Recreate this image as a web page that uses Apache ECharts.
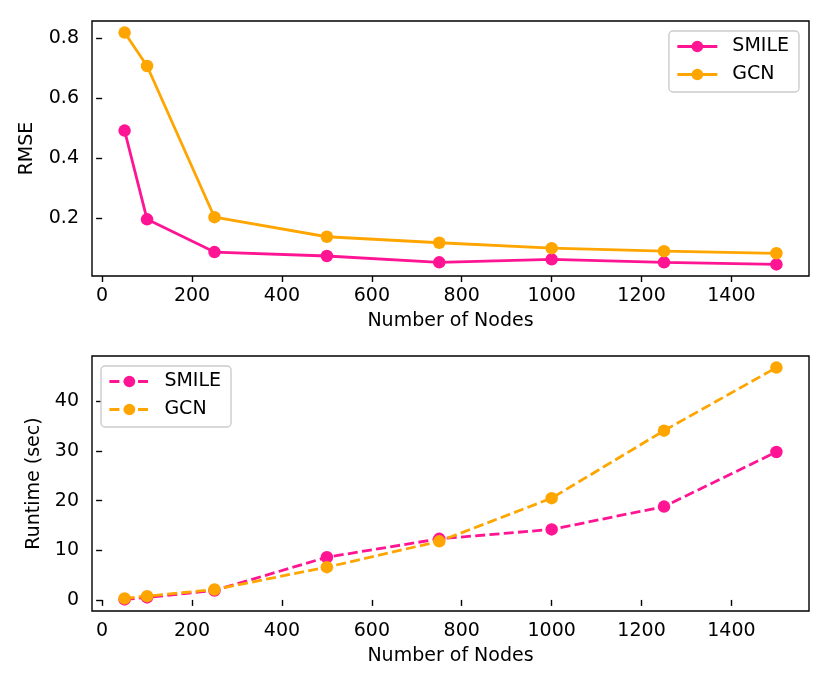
<!DOCTYPE html>
<html>
<head>
<meta charset="utf-8">
<script src="https://cdn.jsdelivr.net/npm/echarts@6/dist/echarts.min.js"></script>
<style>
html,body{margin:0;padding:0;background:#fff;}
#chart{width:830px;height:692px;}
</style>
</head>
<body>
<div id="chart"></div>
<script>
// ---- data ----
const nodes = [50, 100, 250, 500, 750, 1000, 1250, 1500];
const rmseSmile = [0.492, 0.197, 0.088, 0.075, 0.054, 0.064, 0.054, 0.047];
const rmseGcn = [0.818, 0.707, 0.204, 0.139, 0.119, 0.101, 0.091, 0.084];
const runtimeSmile = [0.1, 0.5, 1.9, 8.6, 12.3, 14.2, 18.8, 29.8];
const runtimeGcn = [0.3, 0.75, 2.1, 6.6, 11.8, 20.5, 34.1, 46.8];
const xTicks = [0, 200, 400, 600, 800, 1000, 1200, 1400];
const rmseTicks = [0.2, 0.4, 0.6, 0.8];
const runtimeTicks = [0, 10, 20, 30, 40];
const seriesNames = ['SMILE', 'GCN'];
const xLabel = 'Number of Nodes';
const rmseLabel = 'RMSE';
const runtimeLabel = 'Runtime (sec)';

// ---- helpers ----
const FONT = 'DejaVu Sans';
const FS = 19;
const PINK = '#FF1493';
const ORANGE = '#FFA500';
function pairs(xs, ys) { return xs.map((x, i) => [x, ys[i]]); }
function padRange(vals) {
  const lo = Math.min(...vals), hi = Math.max(...vals);
  const m = (hi - lo) * 0.05;
  return [lo - m, hi + m];
}
const xr = padRange(nodes);
const yr1 = padRange(rmseSmile.concat(rmseGcn));
const yr2 = padRange(runtimeSmile.concat(runtimeGcn));

function xAxis(gi) {
  return {
    type: 'value', gridIndex: gi, min: xr[0], max: xr[1],
    name: xLabel, nameLocation: 'middle', nameGap: 36,
    nameTextStyle: {fontFamily: FONT, fontSize: FS, color: '#000'},
    axisLine: {show: false},
    axisTick: {show: true, length: 6, lineStyle: {color: '#000', width: 1.4}, customValues: xTicks},
    axisLabel: {fontFamily: FONT, fontSize: FS, color: '#000', margin: 11, customValues: xTicks, formatter: v => String(v)},
    splitLine: {show: false}
  };
}
function yAxis(gi, r, ticks, name, gap, fmt) {
  return {
    type: 'value', gridIndex: gi, min: r[0], max: r[1],
    name: name, nameLocation: 'middle', nameGap: gap,
    nameTextStyle: {fontFamily: FONT, fontSize: FS, color: '#000'},
    axisLine: {show: false},
    axisTick: {show: true, length: 6, lineStyle: {color: '#000', width: 1.4}, customValues: ticks},
    axisLabel: {fontFamily: FONT, fontSize: FS, color: '#000', margin: 13, customValues: ticks, formatter: fmt},
    splitLine: {show: false}
  };
}
function line(name, id, gi, ys, color, dashed) {
  return {
    type: 'line', name: id, xAxisIndex: gi, yAxisIndex: gi,
    data: pairs(nodes, ys),
    symbol: 'circle', symbolSize: 12.5,
    itemStyle: {color: color},
    lineStyle: {color: color, width: 2.8, type: dashed ? [10, 4.3] : 'solid'},
    emphasis: {disabled: true},
    z: 2
  };
}
function legend(ids, pos) {
  return Object.assign({
    orient: 'vertical',
    data: ids,
    formatter: n => n.replace(/_.*$/, ''),
    itemWidth: 40, itemHeight: 14.5, itemGap: 9,
    padding: [6, 10, 8, 7],
    borderColor: '#cccccc', borderWidth: 1.4, borderRadius: 4,
    backgroundColor: 'rgba(255,255,255,0.8)',
    lineStyle: {width: 2.8},
    textStyle: {fontFamily: FONT, fontSize: FS, color: '#000', padding: [0, 0, 0, 10]},
    selectedMode: false
  }, pos);
}

const chart = echarts.init(document.getElementById('chart'), null, {renderer: 'canvas'});
chart.setOption({
  animation: false,
  backgroundColor: '#fff',
  grid: [
    {left: 92, top: 21, right: 21, height: 255, show: true, borderColor: '#000', borderWidth: 1.4, backgroundColor: 'transparent'},
    {left: 92, top: 356, right: 21, height: 255, show: true, borderColor: '#000', borderWidth: 1.4, backgroundColor: 'transparent'}
  ],
  xAxis: [xAxis(0), xAxis(1)],
  yAxis: [
    yAxis(0, yr1, rmseTicks, rmseLabel, 55, v => v.toFixed(1)),
    yAxis(1, yr2, runtimeTicks, runtimeLabel, 47, v => String(Math.round(v)))
  ],
  legend: [
    legend([seriesNames[0] + '_a', seriesNames[1] + '_a'], {right: 31, top: 31}),
    legend([seriesNames[0] + '_b', seriesNames[1] + '_b'], {left: 101, top: 366})
  ],
  series: [
    line(seriesNames[0], seriesNames[0] + '_a', 0, rmseSmile, PINK, false),
    line(seriesNames[1], seriesNames[1] + '_a', 0, rmseGcn, ORANGE, false),
    line(seriesNames[0], seriesNames[0] + '_b', 1, runtimeSmile, PINK, true),
    line(seriesNames[1], seriesNames[1] + '_b', 1, runtimeGcn, ORANGE, true)
  ]
});
</script>
</body>
</html>
